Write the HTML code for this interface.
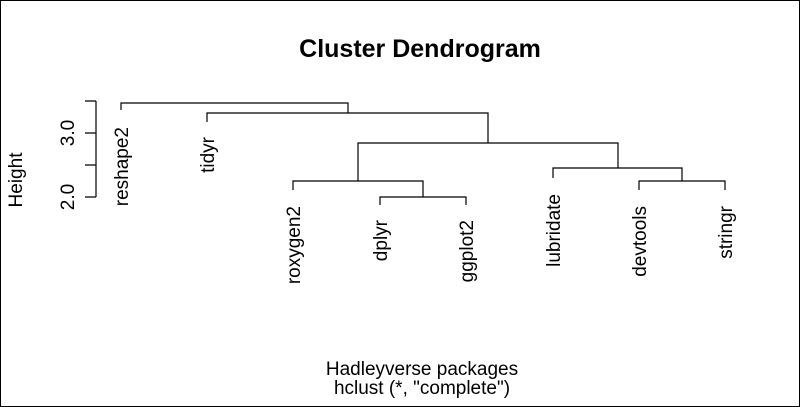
<!DOCTYPE html>
<html><head><style>body{margin:0;background:#fff}svg{display:block}</style></head>
<body>
<svg width="800" height="407" xmlns="http://www.w3.org/2000/svg" font-family="Liberation Sans, sans-serif">
<rect x="0.5" y="0.5" width="799" height="406" fill="#fff" stroke="#000"/>
<text x="420" y="57" font-size="25" font-weight="bold" text-anchor="middle">Cluster Dendrogram</text>
<text x="422" y="375" font-size="19" text-anchor="middle">Hadleyverse packages</text>
<text x="422" y="394" font-size="19" text-anchor="middle">hclust (*, "complete")</text>
<text transform="translate(22,180) rotate(-90)" font-size="19" text-anchor="middle">Height</text>
<g stroke="#000" stroke-width="1.2" fill="none">
<path d="M96,101V197M85,101H96M85,133H96M85,165H96M85,197H96"/>
<path d="M121,110V103H348V113M207,122V113H488V143M358,181V143H618V168M293,190V181H423V197M380,205V197H466V205M553,178V168H682V181M639,190V181H725V190"/>
</g>
<g font-size="19">
<text transform="translate(74,133) rotate(-90)" text-anchor="middle">3.0</text>
<text transform="translate(74,197) rotate(-90)" text-anchor="middle">2.0</text>
<text transform="translate(128,127) rotate(-90)" text-anchor="end">reshape2</text>
<text transform="translate(214,137) rotate(-90)" text-anchor="end">tidyr</text>
<text transform="translate(300,206) rotate(-90)" text-anchor="end">roxygen2</text>
<text transform="translate(387,220) rotate(-90)" text-anchor="end">dplyr</text>
<text transform="translate(473,220) rotate(-90)" text-anchor="end">ggplot2</text>
<text transform="translate(560,194) rotate(-90)" text-anchor="end">lubridate</text>
<text transform="translate(646,206) rotate(-90)" text-anchor="end">devtools</text>
<text transform="translate(732,206) rotate(-90)" text-anchor="end">stringr</text>
</g>
</svg>
</body></html>
